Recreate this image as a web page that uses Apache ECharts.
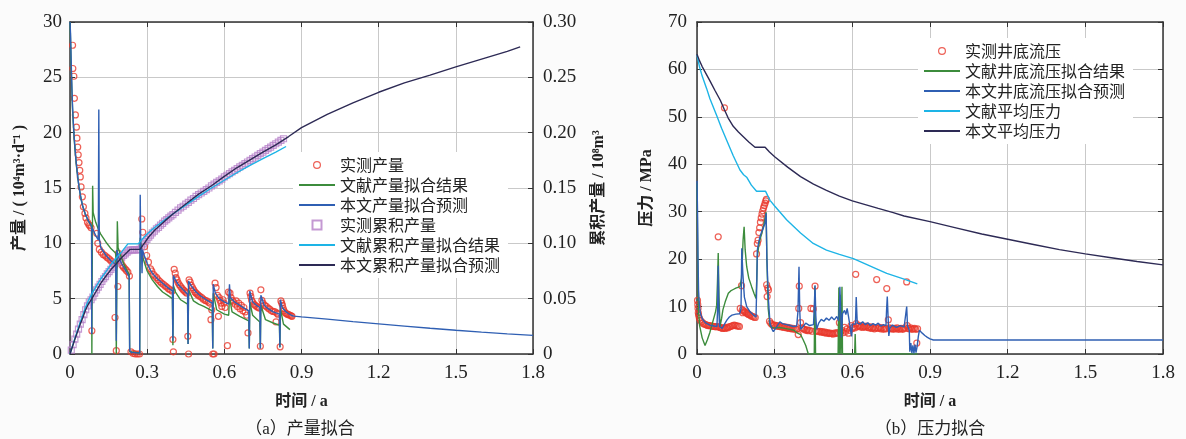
<!DOCTYPE html>
<html><head><meta charset="utf-8">
<script src="https://cdn.jsdelivr.net/npm/echarts@6/dist/echarts.min.js"></script>
<style>html,body{margin:0;padding:0;background:#fbfbfb}#c{width:1186px;height:439px}</style>
</head><body><div id="c"></div>
<script>
// ---------- DATA ----------
const legendA = ['实测产量','文献产量拟合结果','本文产量拟合预测','实测累积产量','文献累积产量拟合结果','本文累积产量拟合预测'];
const legendB = ['实测井底流压','文献井底流压拟合结果','本文井底流压拟合预测','文献平均压力','本文平均压力'];
const captionA = '（a）产量拟合';
const captionB = '（b）压力拟合';
const xName = '时间 / a';
const yNameA = '产量 / ( 10⁴m³·d⁻¹ )';
const yNameA2 = '累积产量 / 10⁸m³';
const yNameB = '压力 / MPa';

// measured gas rate (t [a], 10^4 m3/d)
const prodMeas = [
[0.010,27.9],[0.011,25.8],[0.015,25.1],[0.017,23.1],[0.021,21.6],[0.025,20.5],[0.027,19.5],[0.030,18.7],[0.032,18.0],[0.035,17.3],[0.038,16.6],[0.040,16.0],[0.043,15.1],[0.048,14.2],[0.052,13.3],[0.058,12.7],[0.062,12.3],[0.068,11.9],[0.073,11.7],[0.077,11.6],[0.082,11.4],[0.085,2.1],
[0.104,10.9],[0.108,10.0],[0.114,9.45],[0.122,9.2],[0.129,9.0],[0.136,8.9],[0.143,8.75],[0.149,8.65],[0.156,8.5],[0.162,8.35],[0.168,8.2],[0.175,3.3],[0.180,0.3],[0.186,6.1],[0.188,9.1],[0.191,8.8],[0.194,8.5],[0.198,8.3],[0.203,8.0],[0.208,7.85],[0.214,7.7],[0.219,7.55],[0.225,7.4],[0.231,7.05],[0.237,0.2],[0.246,0.05],[0.254,0.0],[0.262,0.0],[0.270,0.0],
[0.279,12.2],[0.283,11.0],[0.290,9.7],[0.298,8.9],[0.305,8.3],[0.313,7.7],[0.318,7.5],[0.324,7.2],[0.330,7.05],[0.337,6.9],[0.343,6.7],[0.350,6.55],[0.356,6.4],[0.363,6.3],[0.370,6.15],[0.376,6.05],[0.383,5.9],[0.389,5.8],[0.397,5.7],[0.400,1.3],[0.402,0.2],[0.405,7.65],[0.409,7.3],[0.412,6.9],[0.416,6.7],[0.420,6.45],[0.425,6.25],[0.430,6.1],[0.435,5.95],[0.440,5.8],[0.445,5.7],[0.450,5.6],[0.454,5.5],[0.458,1.6],[0.461,0.0],[0.463,6.7],[0.467,6.5],[0.471,6.2],[0.476,6.0],[0.481,5.8],[0.486,5.6],[0.490,5.5],[0.495,5.4],[0.499,5.3],[0.505,5.2],[0.512,5.1],[0.518,4.95],[0.525,4.85],[0.531,4.8],[0.538,4.7],[0.543,4.6],[0.548,3.1],[0.551,4.0],[0.555,0.0],[0.560,0.0],[0.564,6.4],[0.568,6.0],[0.573,5.3],[0.577,3.4],[0.580,5.1],[0.583,4.85],[0.587,4.6],[0.590,4.3],[0.595,4.9],[0.599,4.6],[0.603,4.2],[0.612,0.75],[0.616,5.6],[0.622,5.5],[0.626,5.1],[0.631,4.85],[0.636,4.7],[0.642,4.5],[0.646,4.8],[0.651,4.3],[0.656,4.6],[0.661,4.1],[0.666,4.4],[0.672,3.9],[0.676,4.2],[0.681,3.8],[0.687,3.5],[0.692,1.9],
[0.700,5.5],[0.703,5.2],[0.706,4.85],[0.710,4.7],[0.715,4.5],[0.720,4.4],[0.726,4.3],[0.731,4.2],[0.736,4.15],[0.740,0.7],[0.742,5.8],[0.746,4.85],[0.750,4.6],[0.757,4.4],[0.763,4.3],[0.770,4.15],[0.776,4.05],[0.783,3.9],[0.790,3.85],[0.797,3.8],[0.801,2.9],[0.805,3.7],[0.808,3.6],[0.817,0.65],[0.820,4.8],[0.823,4.6],[0.826,4.4],[0.829,4.1],[0.832,3.9],[0.836,3.75],[0.840,3.65],[0.845,3.6],[0.850,3.55],[0.855,3.5],[0.860,3.45],[0.863,3.4]
];
// literature rate fit
const prodLit = [
[0,30],[0.002,28.5],[0.004,26.5],[0.006,24.8],[0.008,23.3],[0.010,22.0],[0.013,20.7],[0.016,19.5],[0.020,18.3],[0.025,17.0],[0.030,16.0],[0.035,15.1],[0.040,14.4],[0.045,13.8],[0.050,13.3],[0.060,12.6],[0.070,12.1],[0.080,11.7],[0.084,11.5],[0.085,0],[0.087,0],[0.088,15.2],[0.090,12.8],[0.100,11.9],[0.110,11.3],[0.120,10.8],[0.140,10.1],[0.160,9.5],[0.178,9.1],[0.180,0],[0.182,0],[0.184,12.0],[0.187,9.6],[0.200,8.7],[0.210,8.1],[0.220,7.6],[0.230,7.2],[0.232,0.2],[0.271,0.1],[0.273,10.5],[0.280,9.0],[0.290,8.2],[0.300,7.5],[0.320,6.7],[0.340,6.1],[0.360,5.6],[0.380,5.3],[0.398,5.0],[0.400,0.8],[0.402,6.2],[0.410,5.6],[0.430,4.9],[0.457,4.5],[0.459,0.9],[0.461,5.8],[0.480,4.8],[0.500,4.5],[0.520,4.3],[0.553,3.9],[0.555,0.5],[0.557,5.5],[0.570,4.0],[0.600,3.6],[0.617,3.5],[0.620,5.2],[0.630,3.8],[0.660,3.4],[0.695,3.0],[0.697,0.5],[0.699,4.7],[0.710,3.5],[0.738,2.9],[0.740,0.5],[0.742,4.4],[0.760,3.1],[0.790,2.8],[0.814,2.6],[0.816,0.6],[0.818,4.1],[0.830,2.7],[0.855,2.2]
];
// this paper rate fit + forecast
const prodNew = [
[0,30],[0.002,29],[0.004,27],[0.006,25.2],[0.008,23.6],[0.010,22.3],[0.013,20.9],[0.016,19.7],[0.020,18.4],[0.025,17.1],[0.030,16.0],[0.035,15.1],[0.040,14.4],[0.045,13.8],[0.050,13.3],[0.060,12.6],[0.070,12.1],[0.080,11.7],[0.084,11.5],[0.0845,1.8],[0.085,11.4],[0.090,11.2],[0.100,10.7],[0.110,10.3],[0.112,22.1],[0.114,10.4],[0.120,9.6],[0.140,8.9],[0.160,8.4],[0.178,8.1],[0.180,1.2],[0.182,9.4],[0.190,8.7],[0.200,8.2],[0.210,7.8],[0.220,7.4],[0.230,7.0],[0.232,0.3],[0.240,0.15],[0.260,0.1],[0.271,0.1],[0.273,14.4],[0.275,9.8],[0.278,9.5],[0.280,7.3],[0.282,9.4],[0.290,8.8],[0.300,8.2],[0.310,7.7],[0.320,7.3],[0.340,6.8],[0.360,6.4],[0.380,6.0],[0.398,5.7],[0.400,1.2],[0.402,7.1],[0.410,6.7],[0.420,6.3],[0.440,5.8],[0.457,5.4],[0.459,0.9],[0.461,6.6],[0.470,6.2],[0.490,5.6],[0.510,5.2],[0.530,4.9],[0.553,4.6],[0.555,0.5],[0.557,6.3],[0.565,5.5],[0.580,5.0],[0.600,4.7],[0.617,4.5],[0.620,6.3],[0.623,5.1],[0.640,4.7],[0.660,4.4],[0.680,4.1],[0.695,3.9],[0.697,0.5],[0.699,5.7],[0.710,4.7],[0.725,4.4],[0.738,4.2],[0.740,0.5],[0.742,5.3],[0.755,4.4],[0.770,4.1],[0.790,3.8],[0.814,3.6],[0.816,0.6],[0.818,4.9],[0.825,4.2],[0.840,3.8],[0.860,3.5],[0.870,3.42],[0.900,3.35],[1.000,3.15],[1.100,2.93],[1.200,2.72],[1.300,2.52],[1.400,2.33],[1.500,2.15],[1.600,1.98],[1.700,1.82],[1.800,1.68]
];
// measured cumulative (10^8 m3)
const cumMeas = [
[0.005,0.0035],[0.012,0.0085],[0.019,0.0135],[0.026,0.018],[0.033,0.0225],[0.040,0.027],[0.047,0.031],[0.054,0.0355],[0.061,0.040],[0.068,0.0435],[0.075,0.047],[0.082,0.049],[0.089,0.0515],[0.096,0.055],[0.103,0.058],[0.110,0.0605],[0.117,0.063],[0.124,0.0655],[0.131,0.068],[0.138,0.070],[0.145,0.0725],[0.152,0.0745],[0.159,0.0765],[0.166,0.0785],[0.173,0.0805],[0.180,0.082],[0.187,0.0835],[0.194,0.0855],[0.201,0.0875],[0.208,0.089],[0.215,0.0905],[0.222,0.092],[0.229,0.0935],[0.236,0.094],[0.243,0.094],[0.250,0.094],[0.257,0.094],[0.264,0.094],[0.271,0.0945],[0.278,0.097],[0.285,0.0995],[0.292,0.1015],[0.299,0.1035],[0.306,0.1055],[0.313,0.1075],[0.320,0.1095],[0.328,0.111],[0.336,0.113],[0.344,0.1145],[0.352,0.1165],[0.360,0.118],[0.368,0.120],[0.376,0.1215],[0.384,0.123],[0.392,0.1245],[0.400,0.126],[0.410,0.128],[0.420,0.130],[0.430,0.132],[0.440,0.1335],[0.450,0.1355],[0.460,0.137],[0.470,0.139],[0.480,0.1405],[0.490,0.1425],[0.500,0.144],[0.510,0.1455],[0.520,0.147],[0.530,0.1485],[0.540,0.150],[0.550,0.152],[0.560,0.1535],[0.570,0.155],[0.580,0.1565],[0.590,0.158],[0.600,0.160],[0.610,0.1615],[0.620,0.163],[0.630,0.1645],[0.640,0.166],[0.650,0.1675],[0.660,0.169],[0.670,0.1705],[0.680,0.172],[0.690,0.1735],[0.700,0.175],[0.710,0.1765],[0.720,0.178],[0.730,0.1795],[0.740,0.181],[0.750,0.1825],[0.760,0.184],[0.770,0.1855],[0.780,0.187],[0.790,0.1885],[0.800,0.190],[0.810,0.1915],[0.820,0.193],[0.830,0.1945]
];
const cumLit = [
[0,0],[0.01,0.0075],[0.02,0.015],[0.03,0.022],[0.04,0.029],[0.05,0.0355],[0.06,0.042],[0.07,0.0475],[0.084,0.054],[0.10,0.0605],[0.12,0.068],[0.14,0.0745],[0.16,0.081],[0.18,0.087],[0.20,0.092],[0.225,0.0995],[0.265,0.0995],[0.28,0.1035],[0.30,0.1085],[0.33,0.1145],[0.37,0.1215],[0.40,0.1265],[0.45,0.1345],[0.50,0.1425],[0.55,0.150],[0.60,0.157],[0.65,0.164],[0.70,0.1705],[0.75,0.1765],[0.80,0.1825],[0.84,0.1875]
];
const cumNew = [
[0,0],[0.01,0.007],[0.02,0.014],[0.03,0.0205],[0.04,0.027],[0.05,0.033],[0.06,0.0395],[0.07,0.0445],[0.084,0.0495],[0.10,0.056],[0.12,0.064],[0.14,0.0705],[0.16,0.0765],[0.18,0.0815],[0.20,0.087],[0.22,0.0915],[0.233,0.0945],[0.272,0.0945],[0.29,0.1005],[0.305,0.1055],[0.33,0.112],[0.37,0.1205],[0.40,0.1265],[0.45,0.1355],[0.50,0.1445],[0.55,0.152],[0.60,0.1605],[0.65,0.1685],[0.70,0.1755],[0.75,0.1825],[0.80,0.189],[0.85,0.1965],[0.90,0.2045],[1.00,0.2165],[1.10,0.227],[1.20,0.2365],[1.30,0.245],[1.40,0.252],[1.50,0.2595],[1.60,0.2665],[1.70,0.2735],[1.75,0.2775]
];
// measured bottom-hole pressure (MPa)
const presMeas = [
[0.002,11.3],[0.003,10.4],[0.004,9.6],[0.005,8.7],[0.006,8.2],[0.009,7.6],[0.013,7.1],[0.018,6.8],[0.023,6.5],[0.028,6.3],[0.033,6.2],[0.038,6.1],[0.043,6.0],[0.048,6.0],[0.053,5.9],[0.058,5.9],[0.063,5.8],[0.068,5.8],[0.073,5.7],[0.078,5.8],[0.082,24.7],[0.084,5.7],[0.089,5.6],[0.094,5.5],[0.099,5.4],[0.104,5.5],[0.106,51.9],[0.109,5.4],[0.114,5.6],[0.119,5.5],[0.124,5.7],[0.129,5.8],[0.134,5.9],[0.139,6.0],[0.144,6.1],[0.149,6.0],[0.154,5.9],[0.159,5.9],[0.164,5.8],[0.167,9.6],[0.172,14.4],[0.175,9.3],[0.177,8.7],[0.180,9.1],[0.184,8.9],[0.188,8.8],[0.192,8.6],[0.196,8.5],[0.200,8.3],[0.205,8.2],[0.210,8.0],[0.215,7.9],[0.220,7.8],[0.225,7.7],[0.230,21.1],[0.233,23.3],[0.236,24.0],[0.239,25.6],[0.242,26.6],[0.245,27.8],[0.248,28.7],[0.251,29.5],[0.254,30.2],[0.257,30.8],[0.260,31.3],[0.263,31.8],[0.266,32.3],[0.268,32.6],[0.269,14.6],[0.271,12.1],[0.273,13.9],[0.276,13.5],[0.280,6.9],[0.285,6.5],[0.290,6.2],[0.295,6.0],[0.300,6.1],[0.305,5.9],[0.310,6.0],[0.315,5.8],[0.320,5.9],[0.325,5.7],[0.330,5.8],[0.335,5.6],[0.340,5.7],[0.345,5.5],[0.350,5.6],[0.355,5.4],[0.360,5.5],[0.365,5.3],[0.370,5.4],[0.375,5.2],[0.380,5.3],[0.385,5.2],[0.391,4.1],[0.393,9.6],[0.395,14.3],[0.400,6.6],[0.405,5.5],[0.410,5.3],[0.415,5.2],[0.420,5.0],[0.425,5.1],[0.430,4.9],[0.435,5.0],[0.440,9.6],[0.445,4.8],[0.449,9.5],[0.456,14.3],[0.460,4.9],[0.465,4.8],[0.470,4.7],[0.475,4.8],[0.480,4.6],[0.485,4.7],[0.490,4.5],[0.495,4.6],[0.500,4.4],[0.505,4.5],[0.510,4.3],[0.515,4.4],[0.520,4.3],[0.525,4.2],[0.530,4.4],[0.535,4.3],[0.540,4.5],[0.545,4.4],[0.550,6.6],[0.555,4.6],[0.560,5.0],[0.565,4.5],[0.570,5.6],[0.575,4.8],[0.580,5.3],[0.585,4.4],[0.590,5.0],[0.595,6.0],[0.600,5.4],[0.605,5.7],[0.610,5.5],[0.613,16.8],[0.615,6.4],[0.620,5.8],[0.625,6.0],[0.630,5.7],[0.635,5.9],[0.640,5.6],[0.645,5.8],[0.650,5.7],[0.655,5.9],[0.660,5.6],[0.665,5.5],[0.670,5.7],[0.675,5.4],[0.680,5.6],[0.685,5.3],[0.690,5.5],[0.694,15.7],[0.700,5.4],[0.705,5.6],[0.710,5.3],[0.715,5.5],[0.720,5.2],[0.725,5.4],[0.730,5.3],[0.733,13.8],[0.739,7.2],[0.743,5.5],[0.748,5.3],[0.753,5.4],[0.758,5.2],[0.763,5.4],[0.768,5.3],[0.773,5.5],[0.778,5.2],[0.783,5.3],[0.788,5.4],[0.793,5.2],[0.798,5.3],[0.803,5.5],[0.810,15.2],[0.812,6.0],[0.816,5.4],[0.820,5.3],[0.825,5.5],[0.830,5.2],[0.835,5.3],[0.840,5.4],[0.845,5.2],[0.849,2.3],[0.852,5.3]
];
const presLit = [
[0,36],[0.002,25],[0.004,14],[0.006,9],[0.010,6],[0.020,3.4],[0.031,1.8],[0.040,3.0],[0.050,4.6],[0.063,7.2],[0.072,9.0],[0.076,10.3],[0.079,15],[0.082,21.3],[0.085,12],[0.089,5.8],[0.095,7.5],[0.100,9.3],[0.110,11.2],[0.121,12.8],[0.130,13.3],[0.140,13.6],[0.150,13.9],[0.166,14.2],[0.172,16],[0.178,24],[0.182,26.8],[0.186,22],[0.192,18.4],[0.200,16.0],[0.211,14.2],[0.220,12.8],[0.228,11.7],[0.231,16],[0.233,20.5],[0.240,23.5],[0.250,25.4],[0.258,27.2],[0.267,29.9],[0.270,20],[0.275,9.6],[0.282,6.0],[0.290,5.6],[0.300,5.5],[0.320,5.6],[0.340,5.4],[0.360,5.2],[0.375,5.0],[0.385,4.5],[0.400,4.1],[0.410,3.0],[0.420,1.8],[0.430,0],[0.453,0],[0.455,14.3],[0.458,0],[0.545,0],[0.548,14.0],[0.550,0],[0.553,12.5],[0.556,0],[0.560,14.2],[0.562,0],[0.609,0],[0.611,4.2],[0.613,0],[0.852,0]
];
const presNew = [
[0,36.5],[0.002,30],[0.004,20],[0.006,13.5],[0.009,10.5],[0.013,8.6],[0.020,7.5],[0.026,7.0],[0.035,6.5],[0.050,6.1],[0.065,5.9],[0.077,5.8],[0.080,10],[0.082,18.6],[0.084,10],[0.087,5.8],[0.093,5.4],[0.097,5.4],[0.105,6.2],[0.116,7.2],[0.125,7.8],[0.135,8.2],[0.150,8.4],[0.165,8.5],[0.170,9.5],[0.173,22.3],[0.177,17],[0.183,12],[0.192,10.0],[0.205,8.9],[0.218,8.2],[0.228,7.8],[0.231,15],[0.233,21.9],[0.238,23.5],[0.243,24.7],[0.250,25.8],[0.257,26.7],[0.263,27.6],[0.267,29.7],[0.270,20],[0.276,11.4],[0.282,6.5],[0.290,5.2],[0.295,4.7],[0.305,5.5],[0.320,6.8],[0.330,6.4],[0.345,6.2],[0.360,6.0],[0.372,5.8],[0.385,5.9],[0.390,9],[0.394,18.4],[0.397,9],[0.400,5.2],[0.410,5.8],[0.420,6.5],[0.435,6.0],[0.450,6.2],[0.453,10],[0.456,14.5],[0.459,8],[0.462,5.2],[0.470,6.5],[0.480,7.3],[0.490,6.9],[0.500,7.6],[0.510,7.1],[0.520,7.8],[0.530,7.2],[0.540,7.9],[0.547,7.0],[0.550,10],[0.552,14.2],[0.555,9],[0.558,3.5],[0.562,8.5],[0.570,9.2],[0.575,8.3],[0.580,9.6],[0.585,8.0],[0.590,7.6],[0.597,3.7],[0.600,6.3],[0.606,6.0],[0.612,6.3],[0.615,12.0],[0.619,6.5],[0.630,6.3],[0.640,6.8],[0.650,6.2],[0.660,6.6],[0.670,6.0],[0.680,6.4],[0.690,6.1],[0.700,6.5],[0.710,5.9],[0.720,6.2],[0.730,6.0],[0.732,9],[0.735,12.1],[0.738,8],[0.741,3.8],[0.745,5.5],[0.755,6.1],[0.770,5.6],[0.785,6.0],[0.800,5.7],[0.807,6.1],[0.810,10.0],[0.813,6.0],[0.820,5.0],[0.822,0.5],[0.826,2.3],[0.830,0.2],[0.834,1.8],[0.838,0.1],[0.842,2.0],[0.846,0.3],[0.850,1.5],[0.855,3.7],[0.859,5.0],[0.870,4.4],[0.880,3.9],[0.890,3.5],[0.900,3.2],[0.913,2.95],[1.800,2.95]
];
const avgLit = [
[0,63.0],[0.01,60.5],[0.02,58.6],[0.037,56.0],[0.05,53.8],[0.076,50.3],[0.095,47.6],[0.115,45.0],[0.14,41.8],[0.166,38.8],[0.18,37.8],[0.193,37.2],[0.21,35.6],[0.23,34.3],[0.265,34.3],[0.282,32.4],[0.30,31.2],[0.346,28.3],[0.40,25.5],[0.449,23.3],[0.50,21.9],[0.55,21.0],[0.604,20.1],[0.65,19.0],[0.70,17.8],[0.733,17.0],[0.80,15.8],[0.851,14.8]
];
const avgNew = [
[0,63.2],[0.01,61.8],[0.02,60.6],[0.03,59.6],[0.05,57.6],[0.07,55.5],[0.09,53.5],[0.106,51.5],[0.12,49.8],[0.14,48.0],[0.16,46.8],[0.179,45.8],[0.20,44.7],[0.224,43.6],[0.263,43.6],[0.28,42.6],[0.30,41.6],[0.35,39.4],[0.40,37.4],[0.45,35.8],[0.50,34.5],[0.55,33.3],[0.60,32.3],[0.65,31.5],[0.70,30.7],[0.758,29.8],[0.80,29.1],[0.90,27.9],[1.00,26.6],[1.10,25.3],[1.20,24.2],[1.30,23.1],[1.40,22.0],[1.50,21.1],[1.60,20.3],[1.70,19.5],[1.80,18.8]
];

// ---------- STYLE ----------
const C = {red:'#e8382c', green:'#3c8c3c', blue:'#2f5fb3', cyan:'#1db4e6', navy:'#2d2a55', purple:'#b57fc8'};
const numFont = 'Liberation Serif, Noto Sans CJK SC';
const cjk = 'Noto Sans CJK SC';
const fmtX = v => v === 0 ? '0' : v.toFixed(1);
const fmtI = v => String(Math.round(v));
const fmtC = v => v === 0 ? '0' : v.toFixed(2);
const axLine = {show:true, onZero:false, lineStyle:{color:'#333', width:1.5}};
const tick = {show:true, inside:true, length:5, lineStyle:{color:'#333', width:1}};
const split = {show:true, lineStyle:{color:'#c9c9c9', width:1}};
const lbl = (f, m) => ({fontFamily:numFont, fontSize:19, color:'#222', margin:m, formatter:f});
const nameStyle = {fontFamily:numFont, fontSize:16, fontWeight:'bold', color:'#222'};

function xAx(grid, top){
  return {gridIndex:grid, type:'value', min:0, max:1.8, interval:0.3, position: top?'top':'bottom',
    axisLine:axLine, axisTick:tick, splitLine: top?{show:false}:split,
    axisLabel: top?{show:false}:lbl(fmtX, 10),
    name: top?'':xName, nameLocation:'middle', nameGap:40, nameTextStyle:nameStyle};
}
const circleIcon = 'path://M0,0M12,12M6,2.6A3.4,3.4,0,1,1,6,9.4A3.4,3.4,0,1,1,6,2.6Z';
const squareIcon = 'path://M0,0M12,12M1.5,1.5L10.5,1.5L10.5,10.5L1.5,10.5Z';
const hideSym = {opacity:0};
const line = (name, data, color, xi, yi) => ({name, type:'line', data, xAxisIndex:xi, yAxisIndex:yi, symbol:'none', showSymbol:false, lineStyle:{color, width:1.4}, itemStyle:{color}, clip:true, animation:false});

const option = {
  backgroundColor:'#fbfbfb',
  animation:false,
  grid:[
    {left:70, top:22, width:463, height:332, show:true, backgroundColor:'#fff', borderWidth:0},
    {left:697, top:22, width:466, height:332, show:true, backgroundColor:'#fff', borderWidth:0}
  ],
  xAxis:[xAx(0,false), xAx(0,true), xAx(1,false), xAx(1,true)],
  yAxis:[
    {gridIndex:0, type:'value', min:0, max:30, interval:5, position:'left', axisLine:axLine, axisTick:tick, splitLine:split, axisLabel:lbl(fmtI, 8),
      name:yNameA, nameLocation:'middle', nameRotate:90, nameGap:42, nameTextStyle:nameStyle},
    {gridIndex:0, type:'value', min:0, max:0.3, interval:0.05, position:'right', axisLine:axLine, axisTick:tick, splitLine:{show:false}, axisLabel:lbl(fmtC, 10),
      name:yNameA2, nameLocation:'middle', nameRotate:90, nameGap:58, nameTextStyle:nameStyle},
    {gridIndex:1, type:'value', min:0, max:70, interval:10, position:'left', axisLine:axLine, axisTick:tick, splitLine:split, axisLabel:lbl(fmtI, 10),
      name:yNameB, nameLocation:'middle', nameRotate:90, nameGap:42, nameTextStyle:nameStyle},
    {gridIndex:1, type:'value', min:0, max:70, interval:10, position:'right', axisLine:axLine, axisTick:tick, splitLine:{show:false}, axisLabel:{show:false}}
  ],
  legend:[
    {data:[{name:legendA[0], icon:circleIcon, itemStyle:{color:'rgba(0,0,0,0)', borderColor:C.red, borderWidth:1.2}},
           {name:legendA[1], itemStyle:hideSym}, {name:legendA[2], itemStyle:hideSym},
           {name:legendA[3], icon:squareIcon, itemStyle:{color:'rgba(0,0,0,0)', borderColor:C.purple, borderWidth:2}},
           {name:legendA[4], itemStyle:hideSym}, {name:legendA[5], itemStyle:hideSym}],
     orient:'vertical', left:293, top:152, padding:[5,8,5,5], itemWidth:36, itemHeight:12, itemGap:4, backgroundColor:'#fff',
     textStyle:{fontFamily:cjk, fontSize:16, color:'#222'}, selectedMode:false},
    {data:[{name:legendB[0], icon:circleIcon, itemStyle:{color:'rgba(0,0,0,0)', borderColor:C.red, borderWidth:1.2}},
           {name:legendB[1], itemStyle:hideSym}, {name:legendB[2], itemStyle:hideSym}, {name:legendB[3], itemStyle:hideSym}, {name:legendB[4], itemStyle:hideSym}],
     orient:'vertical', left:918, top:38, padding:[5,8,5,5], itemWidth:36, itemHeight:12, itemGap:4, backgroundColor:'#fff',
     textStyle:{fontFamily:cjk, fontSize:16, color:'#222'}, selectedMode:false}
  ],
  graphic:[
    {type:'text', x:300, y:430, style:{text:captionA, font:'17px Liberation Serif, Noto Sans CJK SC', fill:'#222', textAlign:'center', textVerticalAlign:'middle'}},
    {type:'text', x:930, y:430, style:{text:captionB, font:'17px Liberation Serif, Noto Sans CJK SC', fill:'#222', textAlign:'center', textVerticalAlign:'middle'}}
  ],
  series:[
    {name:legendA[0], type:'scatter', data:prodMeas, xAxisIndex:0, yAxisIndex:0, symbol:'circle', symbolSize:6, itemStyle:{color:'rgba(0,0,0,0)', borderColor:C.red, borderWidth:1.2}},
    line(legendA[1], prodLit, C.green, 0, 0),
    line(legendA[2], prodNew, C.blue, 0, 0),
    {name:legendA[3], type:'scatter', data:cumMeas, xAxisIndex:0, yAxisIndex:1, symbol:'rect', symbolSize:6, itemStyle:{color:'rgba(0,0,0,0)', borderColor:C.purple, borderWidth:1.2}},
    line(legendA[4], cumLit, C.cyan, 0, 1),
    line(legendA[5], cumNew, C.navy, 0, 1),
    {name:legendB[0], type:'scatter', data:presMeas, xAxisIndex:2, yAxisIndex:2, symbol:'circle', symbolSize:6, itemStyle:{color:'rgba(0,0,0,0)', borderColor:C.red, borderWidth:1.2}},
    line(legendB[1], presLit, C.green, 2, 2),
    line(legendB[2], presNew, C.blue, 2, 2),
    line(legendB[3], avgLit, C.cyan, 2, 2),
    line(legendB[4], avgNew, C.navy, 2, 2)
  ]
};
const chart = echarts.init(document.getElementById('c'), null, {renderer:'canvas'});
chart.setOption(option);
</script></body></html>
